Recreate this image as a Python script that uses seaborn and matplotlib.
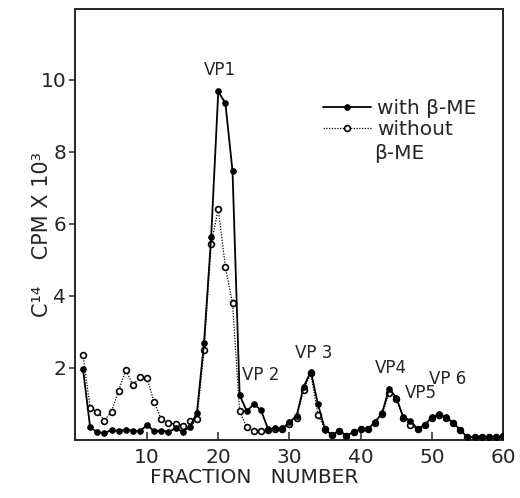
import numpy as np
import pandas as pd
import matplotlib
matplotlib.use("Agg")
import matplotlib.pyplot as plt
import seaborn as sns

fractions = list(range(1, 61))
with_me = [1.96, 0.35, 0.22, 0.19, 0.28, 0.25, 0.29, 0.26, 0.25, 0.41,
           0.25, 0.26, 0.23, 0.32, 0.23, 0.37, 0.76, 2.7, 5.65, 9.68,
           9.35, 7.47, 1.25, 0.8, 1.0, 0.83, 0.3, 0.32, 0.32, 0.5,
           0.67, 1.48, 1.9, 1.0, 0.28, 0.14, 0.26, 0.12, 0.22, 0.3,
           0.3, 0.5, 0.74, 1.43, 1.18, 0.63, 0.54, 0.3, 0.42, 0.63,
           0.72, 0.63, 0.48, 0.28, 0.08, 0.08, 0.08, 0.08, 0.08, 0.1]
without_me = [2.36, 0.88, 0.79, 0.54, 0.79, 1.37, 1.94, 1.53, 1.74, 1.71,
              1.05, 0.57, 0.48, 0.44, 0.39, 0.53, 0.59, 2.5, 5.45, 6.42,
              4.8, 3.8, 0.8, 0.35, 0.25, 0.25, 0.28, 0.3, 0.3, 0.45,
              0.62, 1.4, 1.85, 0.7, 0.3, 0.15, 0.24, 0.12, 0.22, 0.3,
              0.3, 0.48, 0.72, 1.3, 1.15, 0.6, 0.42, 0.3, 0.42, 0.62,
              0.7, 0.62, 0.48, 0.28, 0.08, 0.08, 0.08, 0.08, 0.08, 0.1]
x_ticks = [10, 20, 30, 40, 50, 60]
y_ticks = [2, 4, 6, 8, 10]
peak_labels = ["VP1", "VP 2", "VP 3", "VP4", "VP5", "VP 6"]
peak_pos = [(20.3, 10.14), (25.9, 1.67), (33.4, 2.28), (44.3, 1.86), (48.5, 1.17), (52.2, 1.56)]

sns.set_style("ticks")
plt.rcParams['font.family'] = ['DejaVu Sans']

fig = plt.figure(figsize=(5.2, 4.98), dpi=100)
ax = fig.add_axes([74.5/520, 1 - 440/498, (503 - 74.5)/520, (440 - 9)/498])

df = pd.DataFrame({"fraction": fractions, "with": with_me, "without": without_me})

sns.lineplot(data=df, x="fraction", y="without", ax=ax, color="black",
             linestyle=(0, (1, 1.2)), linewidth=0.9, marker="o", markersize=4.2,
             markerfacecolor="white", markeredgecolor="black", markeredgewidth=1.2,
             label="without", estimator=None, zorder=2)
sns.lineplot(data=df, x="fraction", y="with", ax=ax, color="black",
             linewidth=1.3, marker="o", markersize=4.0,
             markerfacecolor="black", markeredgecolor="black",
             label="with β-ME", estimator=None, zorder=3)

ax.set_xlim(-0.2, 59.8)
ax.set_ylim(0, 11.97)
ax.set_xticks(x_ticks)
ax.set_yticks(y_ticks)
ax.set_xticklabels([str(t) for t in x_ticks], fontsize=14.5)
ax.set_yticklabels([str(t) for t in y_ticks], fontsize=14.5)
ax.tick_params(axis="x", direction="in", length=6, width=1.1, pad=6)
ax.tick_params(axis="y", direction="out", length=4, width=1.1, pad=2)
for s in ax.spines.values():
    s.set_linewidth(1.4)
    s.set_visible(True)

ax.set_xlabel("FRACTION   NUMBER", fontsize=14.5, labelpad=4)
ax.xaxis.set_label_coords(0.42, -0.065, transform=ax.transAxes)
ax.set_ylabel("C¹⁴    CPM X 10³", fontsize=15)
ax.yaxis.set_label_coords(-0.052, 0.476)

for lab, (px, py) in zip(peak_labels, peak_pos):
    ax.text(px, py, lab, fontsize=12, ha="center", va="baseline")

handles, labels = ax.get_legend_handles_labels()
order = [labels.index("with β-ME"), labels.index("without")]
leg = ax.legend([handles[i] for i in order], [labels[i] for i in order],
                loc="upper left", bbox_to_anchor=(0.56, 0.81), frameon=False,
                fontsize=14.5, handlelength=2.4, handletextpad=0.3,
                labelspacing=0.1, borderaxespad=0)
ax.text(0.699, 0.665, "β-ME", transform=ax.transAxes, fontsize=14.5,
        ha="left", va="center")

fig.savefig("out.png", dpi=100)
